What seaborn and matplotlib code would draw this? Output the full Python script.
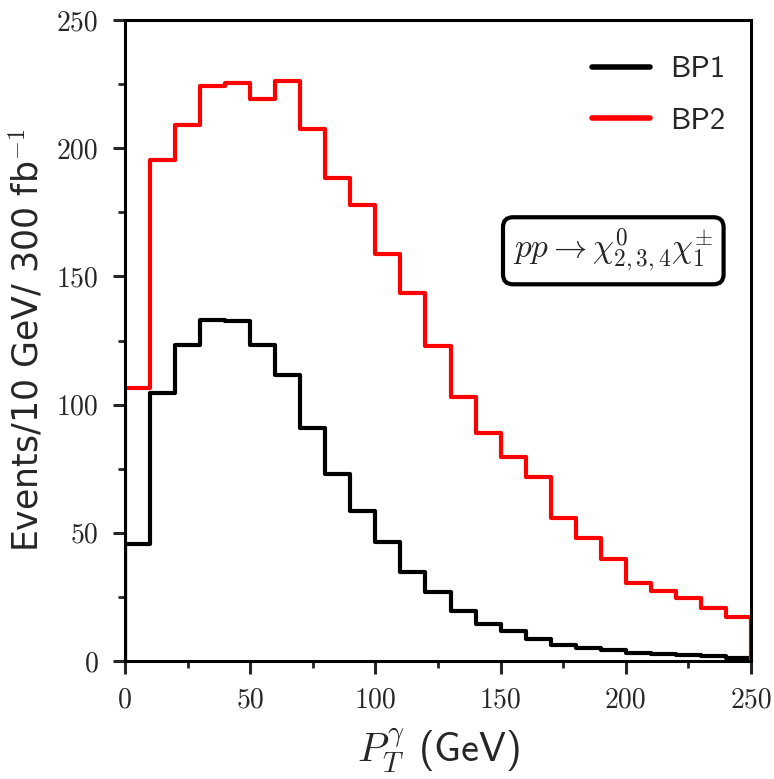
import numpy as np
import pandas as pd
import matplotlib
matplotlib.use("Agg")
import matplotlib.pyplot as plt
import seaborn as sns

# Photon transverse momentum spectra, 10 GeV bins from 0 to 250 GeV
bin_edges = list(range(0, 260, 10))
bp1_events = [45.5, 104.7, 123.2, 133.0, 132.6, 123.2, 111.5, 91.0, 72.9, 58.5,
              46.3, 34.8, 26.8, 19.4, 14.3, 11.5, 8.7, 6.3, 5.1, 4.4,
              3.0, 2.6, 2.2, 1.8, 1.3]
bp2_events = [106.3, 195.4, 209.0, 224.4, 225.5, 219.2, 226.2, 207.6, 188.5, 177.8,
              158.8, 143.4, 122.9, 102.9, 89.1, 79.6, 71.6, 55.8, 47.8, 39.6,
              30.6, 27.4, 24.6, 20.8, 17.0]
series_names = ["BP1", "BP2"]
series_colors = ["black", "red"]
x_ticks = [0, 50, 100, 150, 200, 250]
y_ticks = [0, 50, 100, 150, 200, 250]

sns.set_style("ticks")
plt.rcParams["mathtext.fontset"] = "cm"
plt.rcParams["axes.unicode_minus"] = False

fig = plt.figure(figsize=(7.74, 7.79), dpi=100)
ax = fig.add_axes([0.1615, 0.1515, 0.8088, 0.8228])

edges = np.array(bin_edges, dtype=float)
centers = 0.5 * (edges[:-1] + edges[1:])
frame = pd.DataFrame({
    "pt": np.concatenate([centers, centers]),
    "events": np.concatenate([bp1_events, bp2_events]),
    "sample": np.repeat(series_names, len(centers)),
})

handles = []
for name, color in zip(series_names, series_colors):
    sub = frame[frame["sample"] == name]
    sns.histplot(data=sub, x="pt", weights="events",
                 binwidth=edges[1] - edges[0], binrange=(edges[0], edges[-1]),
                 element="step", fill=False, color=color, linewidth=3.0,
                 ax=ax)
    vals = sub["events"].to_numpy()
    # close the outline down to zero at both ends of the range
    ax.vlines([edges[0], edges[-1]], 0, [vals[0], vals[-1]],
              color=color, linewidth=3.0)
    handles.append(plt.Line2D([], [], color=color, linewidth=4.0, label=name))

ax.set_xlim(0, 250)
ax.set_ylim(0, 250)
ax.set_xticks(x_ticks)
ax.set_yticks(y_ticks)
ax.set_xticks(np.arange(25, 250, 50), minor=True)
ax.set_yticks(np.arange(25, 250, 50), minor=True)

for spine in ax.spines.values():
    spine.set_linewidth(2.2)
    spine.set_color("black")
    spine.set_zorder(5)

ax.tick_params(axis="both", which="major", direction="out", length=9,
               width=2.2, pad=10, labelsize=20)
ax.tick_params(axis="both", which="minor", direction="out", length=5,
               width=2.0)
for lab in ax.get_xticklabels() + ax.get_yticklabels():
    lab.set_fontfamily("cmr10")

ax.set_xlabel(r"$P_T^{\gamma}$ (GeV)", fontfamily="cmss10", fontsize=29,
              labelpad=9)
ax.set_ylabel(r"Events/10 GeV/ 300 fb$^{-1}$", fontfamily="DejaVu Sans",
              fontsize=25, labelpad=8)

leg = ax.legend(handles=handles, loc="upper right", frameon=False,
                bbox_to_anchor=(0.978, 0.963), borderaxespad=0.0,
                prop={"family": "cmss10", "size": 22}, handlelength=1.9,
                handletextpad=0.65, labelspacing=0.78)

ax.text(195, 160, r"$pp \rightarrow \chi^{0}_{2,3,4}\chi^{\pm}_{1}$",
        fontsize=24, ha="center", va="center",
        bbox=dict(boxstyle="round,pad=0.3", facecolor="white",
                  edgecolor="black", linewidth=3))

fig.savefig("out.png", dpi=100)
